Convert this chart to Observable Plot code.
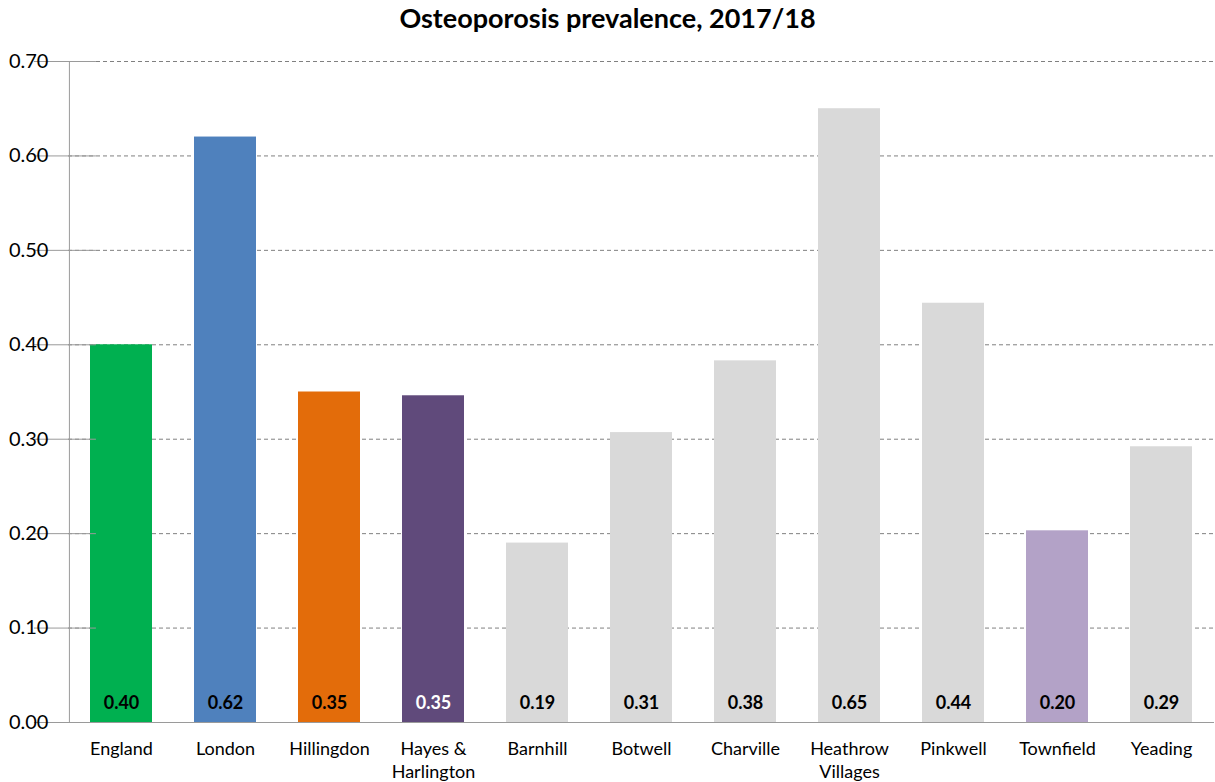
<!DOCTYPE html>
<html>
<head>
<meta charset="utf-8">
<script src="https://cdn.jsdelivr.net/npm/d3@7"></script>
<script src="https://cdn.jsdelivr.net/npm/@observablehq/plot@0.6"></script>
<style>
  html, body { margin: 0; padding: 0; background: #fff; }
  #title {
    font-family: Lato, "Open Sans", sans-serif;
    font-weight: bold;
    font-size: 27px;
    text-align: center;
    height: 36px;
    line-height: 36px;
    color: #000;
  }
  #chart svg { display: block; }
</style>
</head>
<body>
<div id="title">Osteoporosis prevalence, 2017/18</div>
<div id="chart"></div>
<script>
// Areas shown along the x axis (\n breaks long names onto two lines)
const areas = ["England", "London", "Hillingdon", "Hayes &\nHarlington", "Barnhill", "Botwell",
  "Charville", "Heathrow\nVillages", "Pinkwell", "Townfield", "Yeading"];
// Prevalence (%) for 2017/18
const prevalence = [0.40, 0.62, 0.35, 0.346, 0.19, 0.307, 0.383, 0.65, 0.444, 0.203, 0.292];
// Bar fills and in-bar label colours
const fills = ["#00B050", "#4F81BD", "#E36C0A", "#604A7B", "#D9D9D9", "#D9D9D9",
  "#D9D9D9", "#D9D9D9", "#D9D9D9", "#B3A2C7", "#D9D9D9"];
const labelColors = ["#000", "#000", "#000", "#fff", "#000", "#000",
  "#000", "#000", "#000", "#000", "#000"];
const yTicks = [0, 0.1, 0.2, 0.3, 0.4, 0.5, 0.6, 0.7];

const data = areas.map((area, i) => ({
  area, value: prevalence[i], fill: fills[i], labelColor: labelColors[i]
}));

const width = 1215, height = 746;
const marginLeft = 68, marginRight = 1, marginTop = 25, marginBottom = 60;
const step = (width - marginLeft - marginRight) / areas.length;
const font = "Lato, 'Open Sans', sans-serif";
const fmt = d3.format(".2f");

const chart = Plot.plot({
  width, height, marginLeft, marginRight, marginTop, marginBottom,
  style: { fontFamily: font, fontSize: "16px", color: "#000", background: "#fff" },
  x: { domain: areas, paddingInner: 0.4, paddingOuter: 0.2, axis: null },
  y: { domain: [0, 0.7], axis: null },
  marks: [
    // dashed horizontal gridlines
    Plot.ruleY(yTicks.filter(t => t > 0), { stroke: "#808080", strokeDasharray: "4,3", strokeWidth: 1 }),
    Plot.barY(data, { x: "area", y: "value", fill: "fill" }),
    // value labels near the base of each bar
    Plot.text(data, {
      x: "area", y: () => 0, text: d => fmt(d.value), fill: "labelColor",
      dy: -19, fontWeight: "bold", fontSize: 18
    }),
    // y axis line, ticks and labels
    Plot.ruleX([0], { x: () => areas[0], dx: -step / 2, y1: 0, y2: 0.7, stroke: "#9a9a9a" }),
    Plot.tickY(yTicks, { y: d => d, x: () => areas[0], dx: -step / 2 - 4, stroke: "#9a9a9a", insetLeft: 0, insetRight: 0 }),
    Plot.text(yTicks, {
      y: d => d, x: () => areas[0], dx: -step / 2 - 21, text: d => fmt(d),
      textAnchor: "end", fontSize: 20, fill: "#000"
    }),
    // x axis baseline with ticks between categories
    Plot.ruleY([0], { stroke: "#9a9a9a" }),
    Plot.ruleX([...areas], { x: d => d, dx: -step / 2, y: 0, dy: 3, stroke: "#9a9a9a", insetTop: 0 }),
    Plot.text(areas, {
      x: d => d, y: () => 0, text: d => d, dy: 15, lineAnchor: "top",
      fontSize: 18, lineHeight: 1.33, fill: "#000"
    })
  ]
});
document.getElementById("chart").append(chart);
</script>
</body>
</html>
